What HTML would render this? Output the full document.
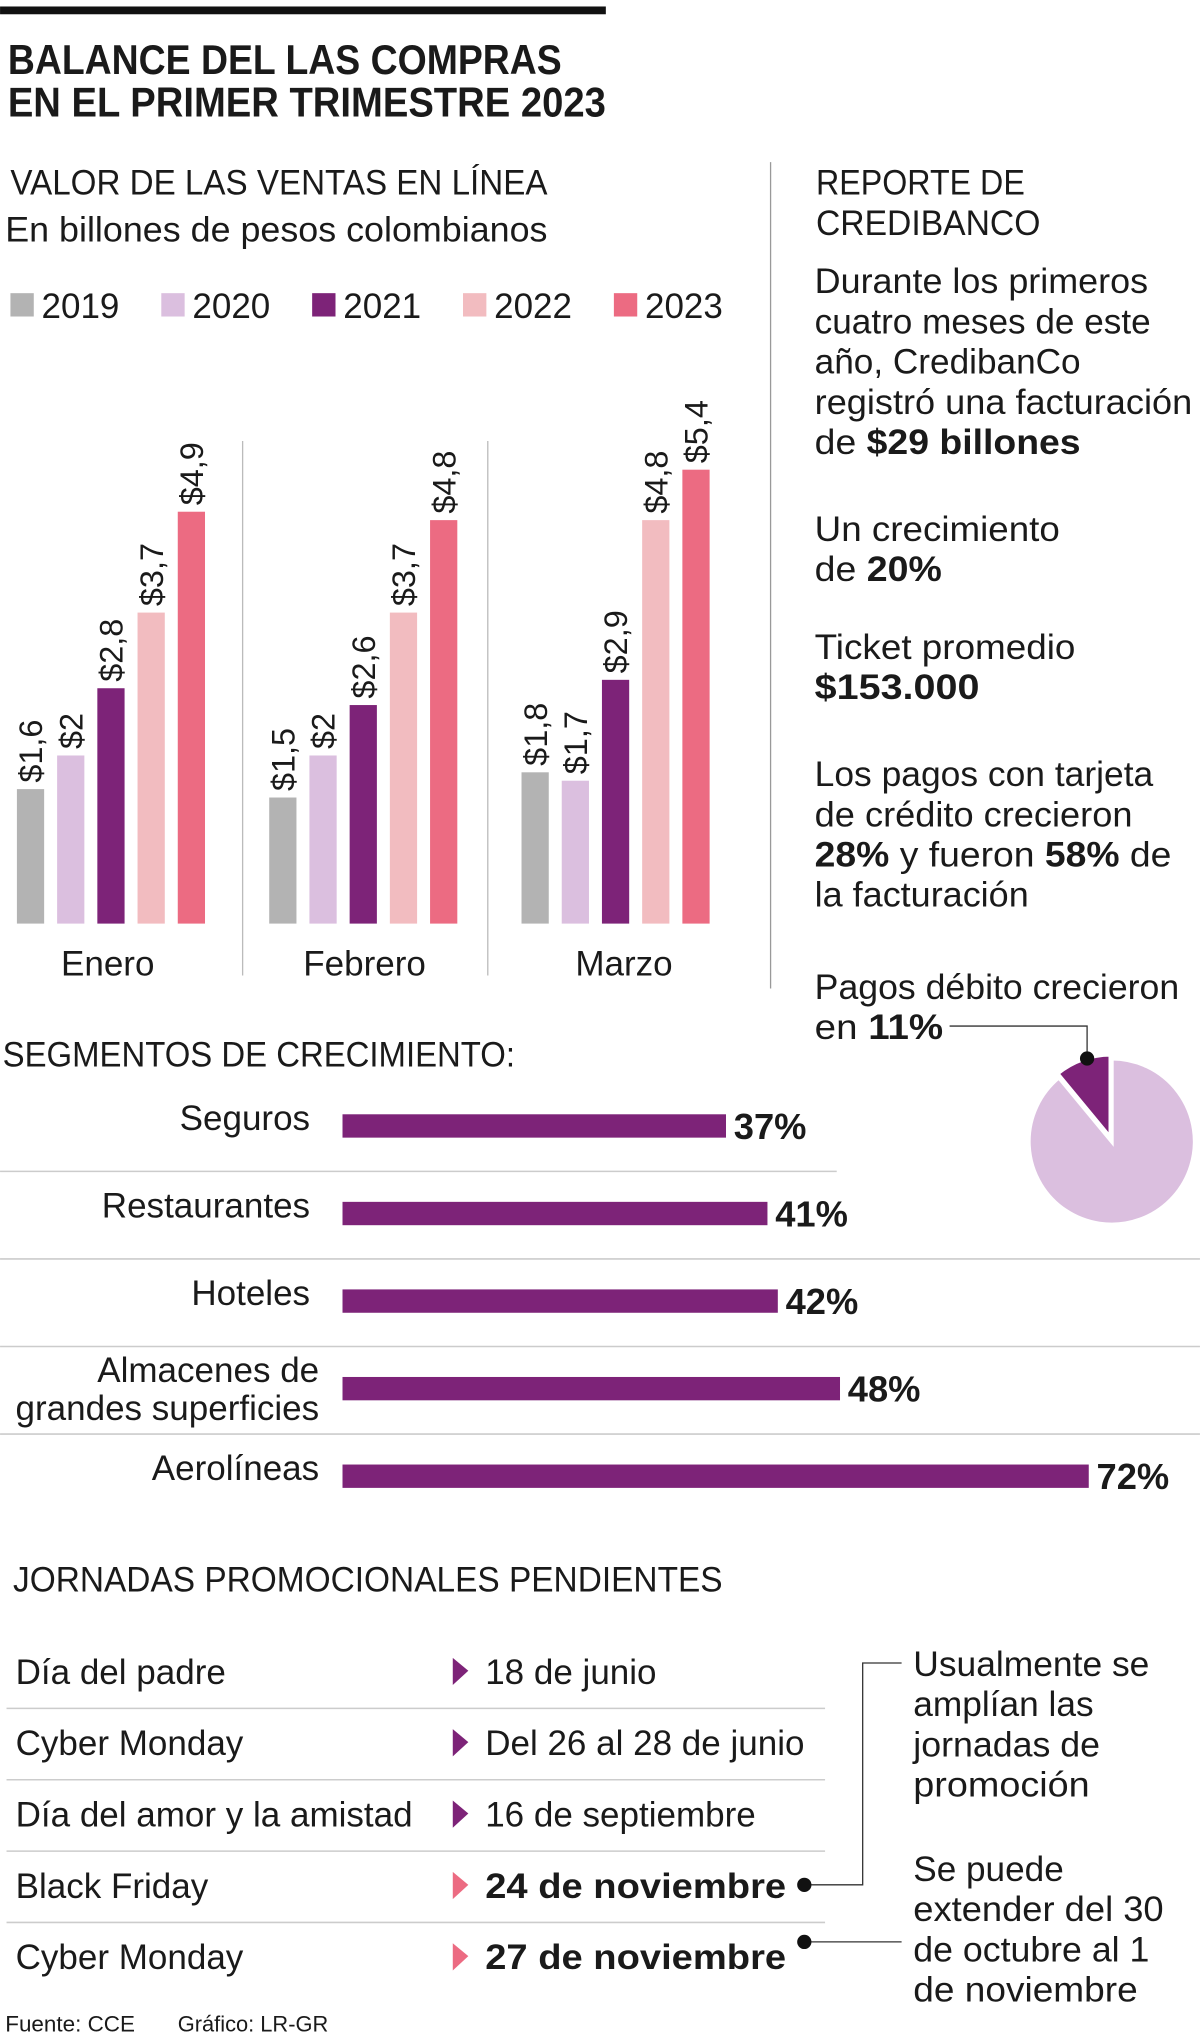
<!DOCTYPE html>
<html><head><meta charset="utf-8"><style>
html,body{margin:0;padding:0;background:#fff;}
svg{display:block;}
text{font-family:"Liberation Sans",sans-serif;fill:#1a1a1a;}
.b{font-weight:bold;}
</style></head><body>
<svg id="g" xmlns="http://www.w3.org/2000/svg" width="1200" height="2034" viewBox="0 0 925 1568">
<rect x="0" y="5" width="467" height="6" fill="#111"/>
<text x="6" y="57" font-size="32" class="b" textLength="427" lengthAdjust="spacingAndGlyphs">BALANCE DEL LAS COMPRAS</text>
<text x="6" y="90" font-size="32" class="b" textLength="461" lengthAdjust="spacingAndGlyphs">EN EL  PRIMER TRIMESTRE 2023</text>
<text x="8" y="150" font-size="27" textLength="414" lengthAdjust="spacingAndGlyphs">VALOR DE LAS VENTAS EN LÍNEA</text>
<text x="4" y="186" font-size="27" textLength="418" lengthAdjust="spacingAndGlyphs">En billones de pesos colombianos</text>
<g id="legend"></g>
<g id="bars"></g>
<line x1="187" y1="340" x2="187" y2="752" stroke="#bbb" stroke-width="1"/>
<line x1="376" y1="340" x2="376" y2="752" stroke="#bbb" stroke-width="1"/>
<line x1="594" y1="125" x2="594" y2="762" stroke="#999" stroke-width="1"/>

<g font-size="27">
<text x="629" y="150" textLength="161" lengthAdjust="spacingAndGlyphs">REPORTE DE</text>
<text x="629" y="181" textLength="173" lengthAdjust="spacingAndGlyphs">CREDIBANCO</text>
<text x="628" y="226" textLength="257" lengthAdjust="spacingAndGlyphs">Durante los primeros</text>
<text x="628" y="257" textLength="259" lengthAdjust="spacingAndGlyphs">cuatro meses de este</text>
<text x="628" y="288" textLength="205" lengthAdjust="spacingAndGlyphs">año, CredibanCo</text>
<text x="628" y="319" textLength="291" lengthAdjust="spacingAndGlyphs">registró una facturación</text>
<text x="628" y="350" textLength="205" lengthAdjust="spacingAndGlyphs">de <tspan class="b">$29 billones</tspan></text>
<text x="628" y="417" textLength="189" lengthAdjust="spacingAndGlyphs">Un crecimiento</text>
<text x="628" y="448" textLength="98" lengthAdjust="spacingAndGlyphs">de <tspan class="b">20%</tspan></text>
<text x="628" y="508" textLength="201" lengthAdjust="spacingAndGlyphs">Ticket promedio</text>
<text x="628" y="539" class="b" textLength="127" lengthAdjust="spacingAndGlyphs">$153.000</text>
<text x="628" y="606" textLength="261" lengthAdjust="spacingAndGlyphs">Los pagos con tarjeta</text>
<text x="628" y="637" textLength="245" lengthAdjust="spacingAndGlyphs">de crédito crecieron</text>
<text x="628" y="668" textLength="275" lengthAdjust="spacingAndGlyphs"><tspan class="b">28%</tspan> y fueron <tspan class="b">58%</tspan> de</text>
<text x="628" y="699" textLength="165" lengthAdjust="spacingAndGlyphs">la facturación</text>
<text x="628" y="770" textLength="281" lengthAdjust="spacingAndGlyphs">Pagos débito crecieron</text>
<text x="628" y="801" textLength="99" lengthAdjust="spacingAndGlyphs">en <tspan class="b">11%</tspan></text>
</g>
<polyline points="732,791 838,791 838,814" fill="none" stroke="#333" stroke-width="1"/>
<g id="pie"></g>

<text x="2" y="822" font-size="27" textLength="395" lengthAdjust="spacingAndGlyphs">SEGMENTOS DE CRECIMIENTO:</text>
<g id="hbars"></g>

<text x="10" y="1227" font-size="27" textLength="547" lengthAdjust="spacingAndGlyphs">JORNADAS PROMOCIONALES PENDIENTES</text>
<g id="table"></g>
<polyline points="620,1453 665,1453 665,1282 695,1282" fill="none" stroke="#333" stroke-width="1"/>
<polyline points="620,1497 695,1497" fill="none" stroke="#333" stroke-width="1"/>
<circle cx="620" cy="1453" r="5.5" fill="#111"/>
<circle cx="620" cy="1497" r="5.5" fill="#111"/>
<g font-size="27">
<text x="704" y="1292" textLength="182" lengthAdjust="spacingAndGlyphs">Usualmente se</text>
<text x="704" y="1323" textLength="139" lengthAdjust="spacingAndGlyphs">amplían las</text>
<text x="704" y="1354" textLength="144" lengthAdjust="spacingAndGlyphs">jornadas de</text>
<text x="704" y="1385" textLength="136" lengthAdjust="spacingAndGlyphs">promoción</text>
<text x="704" y="1450" textLength="116" lengthAdjust="spacingAndGlyphs">Se puede</text>
<text x="704" y="1481" textLength="193" lengthAdjust="spacingAndGlyphs">extender del 30</text>
<text x="704" y="1512" textLength="182" lengthAdjust="spacingAndGlyphs">de octubre al 1</text>
<text x="704" y="1543" textLength="173" lengthAdjust="spacingAndGlyphs">de noviembre</text>
</g>
<text x="4" y="1566" font-size="17" fill="#333" textLength="100" lengthAdjust="spacingAndGlyphs">Fuente: CCE</text>
<text x="137" y="1566" font-size="17" fill="#333" textLength="116" lengthAdjust="spacingAndGlyphs">Gráfico: LR-GR</text>
</svg>
<script>
const NS="http://www.w3.org/2000/svg";
const years=["2019","2020","2021","2022","2023"];
const yearColors=["#b3b3b3","#dbbfdf","#7d2378","#f2bcc0","#ec6b82"];
const months=["Enero","Febrero","Marzo"];
const v2019=[1.6,1.5,1.8];
const v2020=[2,2,1.7];
const v2021=[2.8,2.6,2.9];
const v2022=[3.7,3.7,4.8];
const v2023=[4.9,4.8,5.4];
const valueLabels=[["$1,6","$2","$2,8","$3,7","$4,9"],["$1,5","$2","$2,6","$3,7","$4,8"],["$1,8","$1,7","$2,9","$4,8","$5,4"]];
const segNames=[["Seguros"],["Restaurantes"],["Hoteles"],["Almacenes de","grandes superficies"],["Aerolíneas"]];
const segValues=[37,41,42,48,72];
const debitShare=[11];
const promoEvents=["Día del padre","Cyber Monday","Día del amor y la amistad","Black Friday","Cyber Monday"];
const promoDates=["18 de junio","Del 26 al 28 de junio","16 de septiembre","24 de noviembre","27 de noviembre"];
const promoHighlight=[false,false,false,true,true];

function mk(tag,attrs,parent,txt){const e=document.createElementNS(NS,tag);for(const k in attrs)e.setAttribute(k,attrs[k]);if(txt!=null)e.textContent=txt;parent.appendChild(e);return e;}
const series=[v2019,v2020,v2021,v2022,v2023];
const lg=document.getElementById('legend');
years.forEach((y,i)=>{const x=8+i*116.3;
 const r=mk('rect',{x:x,y:226,width:18,height:18,fill:yearColors[i]},lg);
 
 
 const t=mk('text',{x:x+24,y:245,'font-size':27,textLength:60,lengthAdjust:'spacingAndGlyphs'},lg,y);
 
 });
const base=712, unit=64.8;
const yS=v=>base-v*unit;
const gx=m=>13+m*194.5;
const bx=(m,s)=>gx(m)+s*31;
const monthCenters=[83,281,481];
const bg=document.getElementById('bars');
months.forEach((mo,m)=>{
 series.forEach((arr,s)=>{const v=arr[m];const x=bx(m,s);
  const r=mk('rect',{x:x,y:yS(v),width:21,height:base-yS(v),fill:yearColors[s]},bg);
  
  
  const cx=x+10.5+9, cy=yS(v)-5;
  const t=mk('text',{x:cx,y:cy,'font-size':25,transform:'rotate(-90 '+cx+' '+cy+')'},bg,valueLabels[m][s]);
  
  });
 const ml=mk('text',{x:monthCenters[m],y:752,'font-size':27,'text-anchor':'middle'},bg,mo);
 
 
});
const pg=document.getElementById('pie');
const pcx=857,pcy=880,pr=64;
const a=debitShare[0]/100*2*Math.PI;
const ex=Math.sin(-a),ey=-Math.cos(-a);
const big=mk('path',{d:`M${pcx},${pcy} L${pcx},${pcy-pr} A${pr},${pr} 0 1 1 ${pcx+pr*ex},${pcy+pr*ey} Z`,fill:'#dbbfdf',stroke:'#fff','stroke-width':3},pg);


const sm=mk('path',{d:`M${pcx},${pcy} L${pcx+pr*ex},${pcy+pr*ey} A${pr},${pr} 0 0 1 ${pcx},${pcy-pr} Z`,fill:'#7d2378',stroke:'#fff','stroke-width':3,transform:'translate(-1,-3)'},pg);


const dot=mk('circle',{cx:838,cy:816,r:5.5,fill:'#111'},pg);


const hg=document.getElementById('hbars');
const hx0=264, hu=7.99;
const rowY=i=>868+i*67.5;
segValues.forEach((v,i)=>{const cy=rowY(i);
 const r=mk('rect',{x:hx0,y:cy-9,width:v*hu,height:18,fill:'#7d2378'},hg);
 
 
 const t=mk('text',{x:hx0+v*hu+6,y:cy+10,'font-size':28,'font-weight':'bold'},hg,v+'%');
 
 
 const nm=segNames[i];const rx=i>=3?246:239;
 nm.forEach((n,j)=>{const ly=nm.length>1?cy-5+j*29:cy+3;
  const l=mk('text',{x:rx,y:ly,'font-size':27,'text-anchor':'end'},hg,n);
  
  });
 if(i<4){const ln=mk('line',{x1:0,y1:cy+35,x2:i==0?645:925,y2:cy+35,stroke:'#ccc','stroke-width':1.2},hg);
  
  }
});
const tg=document.getElementById('table');
promoEvents.forEach((ev,i)=>{const by=1298+i*55;
 const e=mk('text',{x:12,y:by,'font-size':27},tg,ev);
 
 
 const c=promoHighlight[i]?'#ec6b82':'#7d2378';
 const tri=mk('path',{d:`M349,${by-20} L361,${by-10} L349,${by+1} Z`,fill:c},tg);
 
 
 const d=mk('text',{x:374,y:by,'font-size':27,'font-weight':promoHighlight[i]?'bold':'normal'},tg,promoDates[i]);
 if(promoHighlight[i]){d.setAttribute('textLength','232');d.setAttribute('lengthAdjust','spacingAndGlyphs');}
 
 
 if(i<4){const ln=mk('line',{x1:5,y1:by+19,x2:636,y2:by+19,stroke:'#ccc','stroke-width':1.2},tg);
  
  }
});
</script>
</body></html>
